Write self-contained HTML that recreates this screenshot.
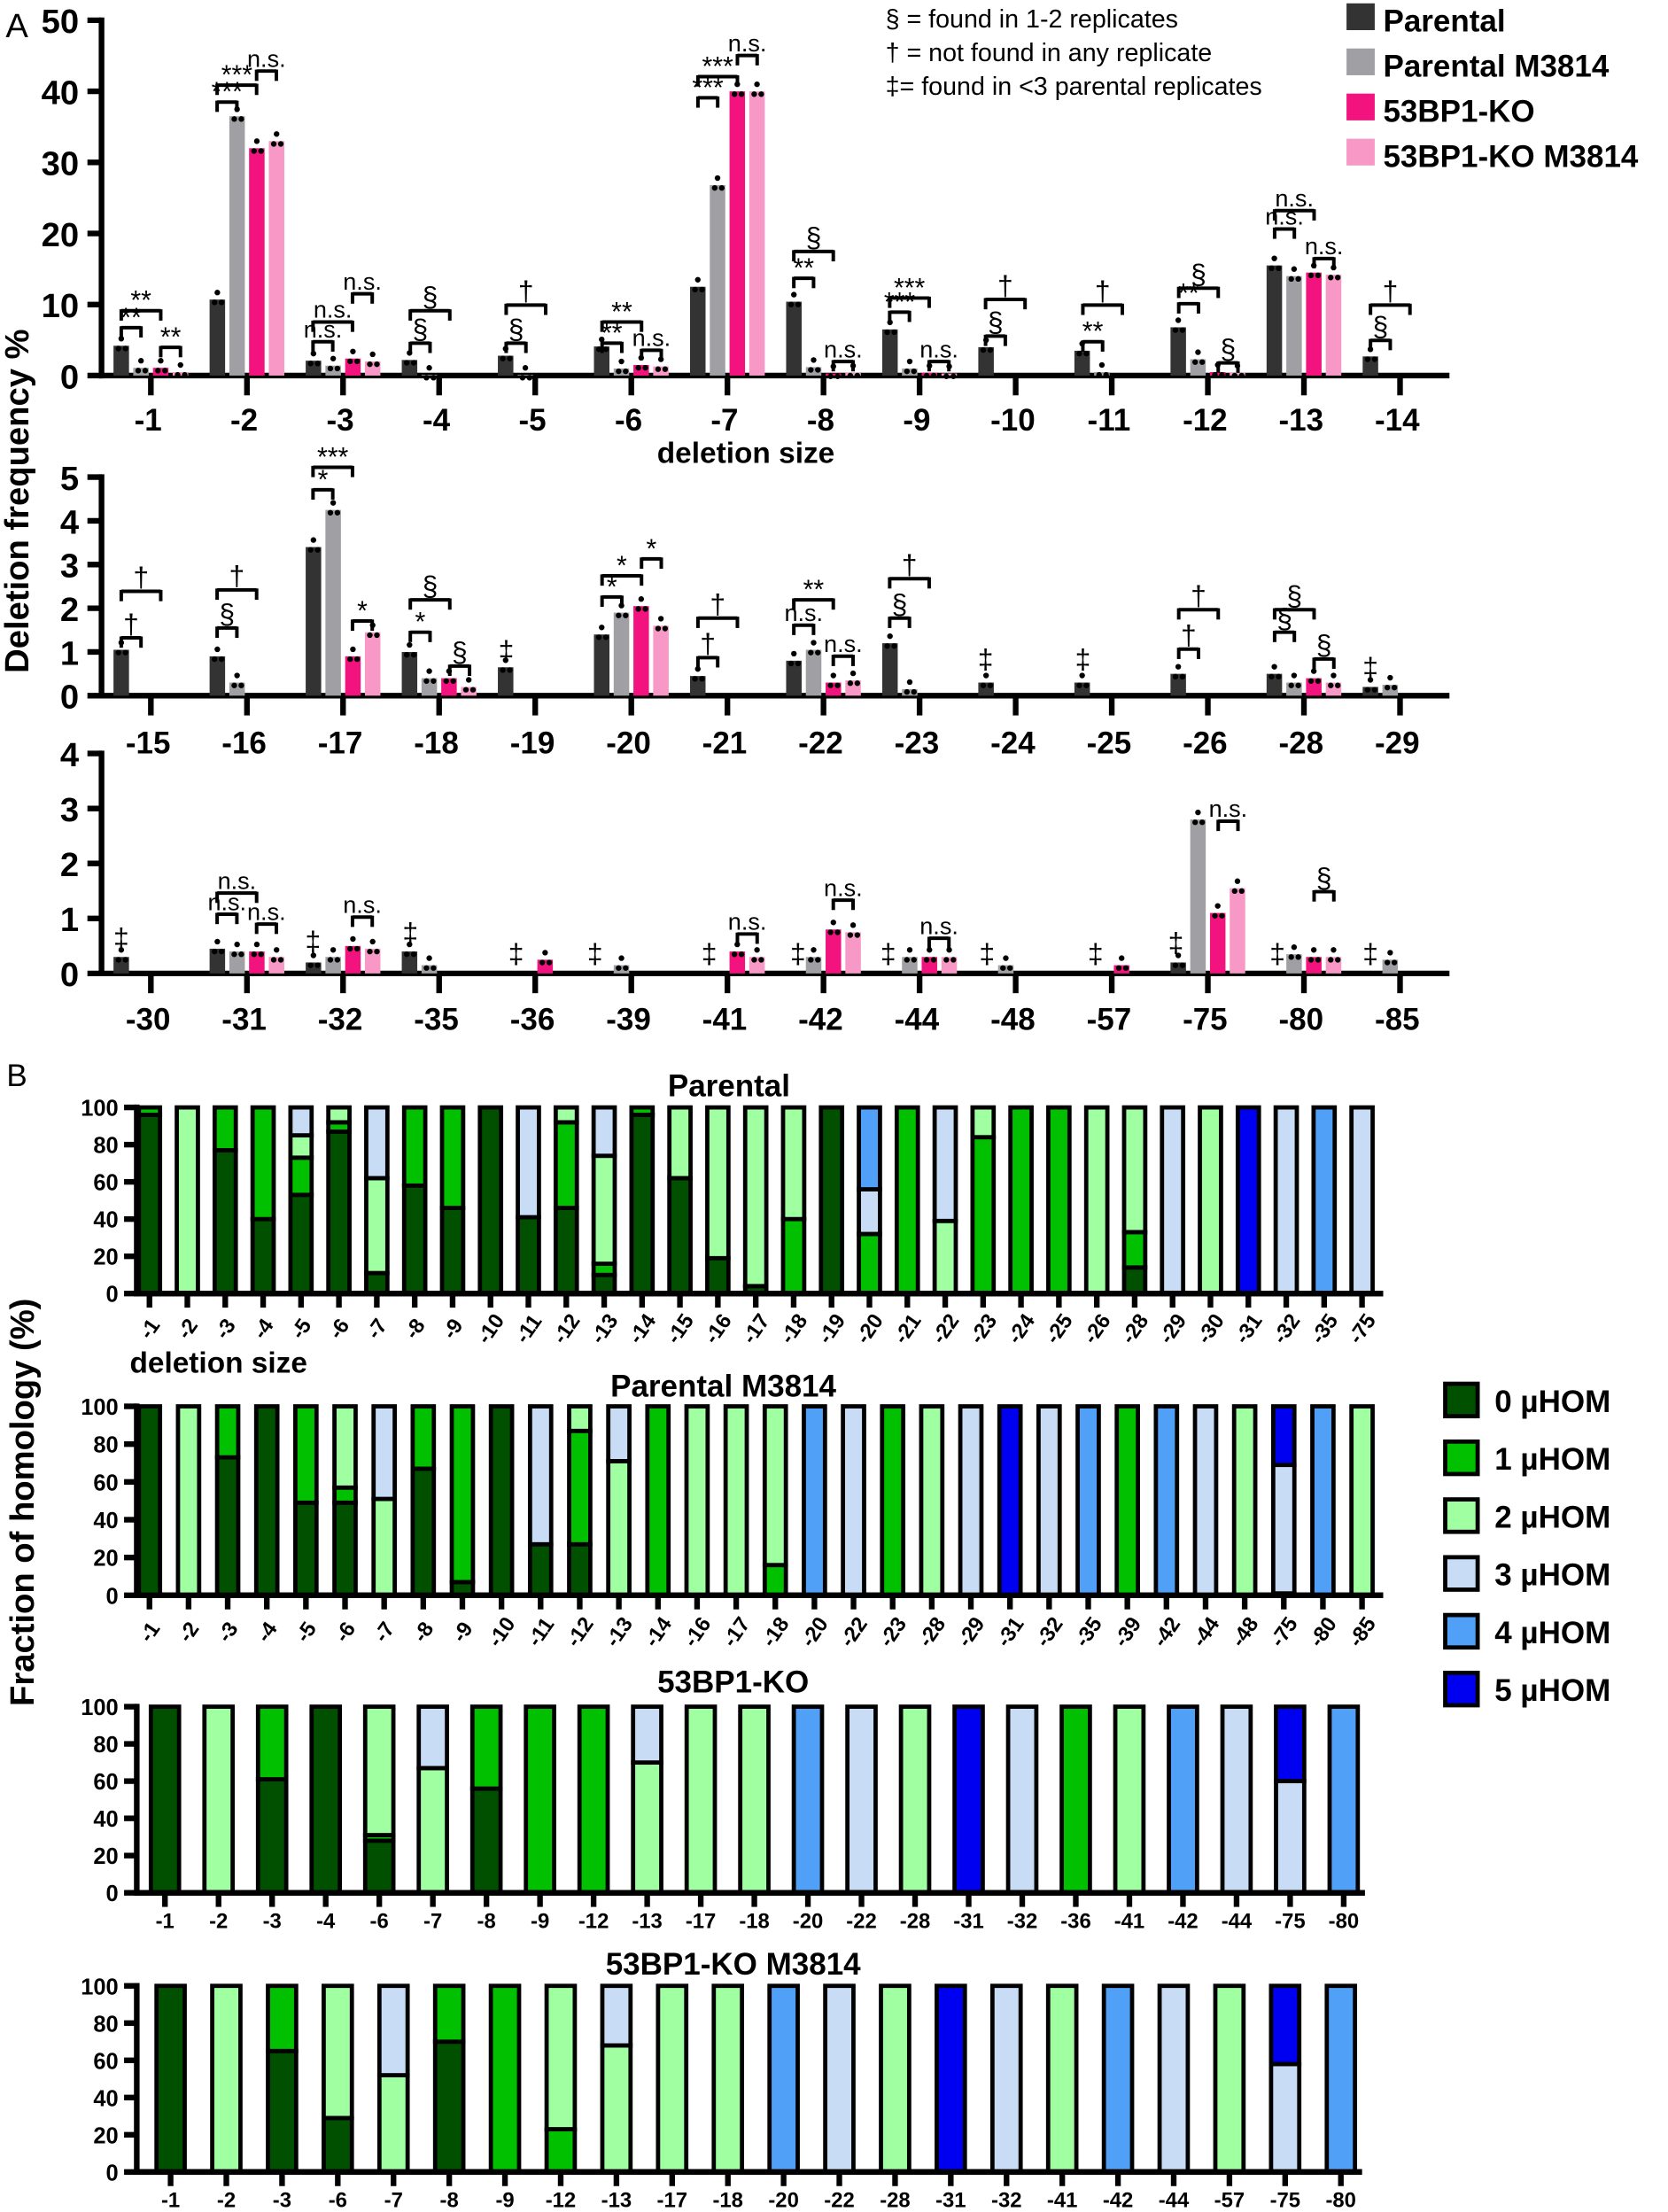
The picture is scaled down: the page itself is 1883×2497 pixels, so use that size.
<!DOCTYPE html>
<html><head><meta charset="utf-8"><style>
html,body{margin:0;padding:0;background:#fff}
svg{display:block}
text{font-family:"Liberation Sans",Arial,sans-serif}
</style></head><body>
<svg id="s" width="1883" height="2497" viewBox="0 0 1183 1568" xmlns="http://www.w3.org/2000/svg"></svg>
<script>
const S=document.getElementById('s');let h='';
function T(x,y,t,sz,o){o=o||{};h+=`<text x="${x}" y="${y}" font-size="${sz}" font-weight="${o.b===false?'normal':'bold'}" text-anchor="${o.a||'middle'}" ${o.tr?`transform="${o.tr}"`:''}>${t}</text>`;}
function L(x1,y1,x2,y2,w){h+=`<line x1="${x1}" y1="${y1}" x2="${x2}" y2="${y2}" stroke="#000" stroke-width="${w||2}"/>`;}
function R(x,y,w,hh,f,st){h+=`<rect x="${x}" y="${y}" width="${w}" height="${hh}" fill="${f}" ${st?`stroke="#000" stroke-width="${st}"`:''}/>`;}
const cols=['#333333','#a0a0a4','#f2137f','#f798c6'];
const centers=[];for(let i=0;i<14;i++)centers.push(107+i*68.15);
function panelA(top,bot,max,step,labels,data,labY){
  const k=(bot-top)/max;
  L(72,top-2,72,bot+2,4);L(70,bot,1028,bot,4);
  for(let v=0;v<=max;v+=step){const y=bot-v*k;L(62,y,72,y,4);T(56,y+9,v,24,{a:'end'});}
  labels.forEach((lb,i)=>{const c=centers[i];L(c,bot,c,bot+14,4);T(c-2,labY,lb,22);
    data[i].forEach((v,j)=>{if(v<=0)return;const x=c-21+j*14;const hh=v*k;R(x-5.5,bot-hh,11,hh,cols[j]);
      h+=`<circle cx="${x-2}" cy="${bot-hh+2}" r="2" fill="#000"/><circle cx="${x+3}" cy="${bot-hh+2}" r="2" fill="#000"/><circle cx="${x}" cy="${bot-hh-5}" r="2" fill="#000"/>`;});});
}
function B(x1,x2,y,lb){L(x1,y,x2,y,2.5);L(x1,y-1,x1,y+7,2.5);L(x2,y-1,x2,y+7,2.5);if(lb){const sz=lb[0]=='n'?17:(lb.includes('*')?19:20);T((x1+x2)/2,y-(lb.includes('*')?1:3),lb,sz,{b:false});}}
function M(x,y,s){T(x,y,s,20,{b:false});}
panelA(14,266,50,10,['-1','-2','-3','-4','-5','-6','-7','-8','-9','-10','-11','-12','-13','-14'],
[[4.2,1.1,1.1,.5],[10.7,36.5,32,33],[2.1,1.4,2.4,2],[2.2,.1,0,0],[2.8,.1,0,0],[4.1,1,1.5,1.3],[12.5,26.8,40,40],[10.4,1.2,.3,.4],[6.5,1,.4,.3],[4,0,0,0],[3.5,.5,0,0],[6.8,2.3,.5,.4],[15.5,14,14.5,14.2],[2.7,0,0,0]],305);
T(529,328,'deletion size',21);
panelA(338,493,5,1,['-15','-16','-17','-18','-19','-20','-21','-22','-23','-24','-25','-26','-28','-29'],
[[1.05,0,0,0],[.9,.3,0,0],[3.4,4.25,.9,1.45],[1,.4,.4,.2],[.65,0,0,0],[1.4,1.9,2.05,1.6],[.45,0,0,0],[.8,1.05,.3,.35],[1.2,.15,0,0],[.3,0,0,0],[.3,0,0,0],[.5,0,0,0],[.5,.3,.4,.3],[.2,.25,0,0]],534);
panelA(534,690,4,1,['-30','-31','-32','-35','-36','-39','-41','-42','-44','-48','-57','-75','-80','-85'],
[[.3,0,0,0],[.45,.4,.4,.3],[.2,.3,.5,.45],[.4,.15,0,0],[0,0,.25,0],[0,.15,0,0],[0,0,.4,.3],[0,.3,.8,.75],[0,.3,.3,.3],[0,.15,0,0],[0,0,.15,0],[.2,2.8,1.1,1.55],[0,.35,.3,.3],[0,.25,0,0]],730);
B(86,100,232,'**');B(86,114,220,'**');B(114,128,246,'**');
B(154,168,72,'***');B(154,182,60,'***');B(182,196,50,'n.s.');
B(222,236,242,'n.s.');B(222,250,228,'n.s.');B(250,264,208,'n.s.');
B(291,305,243,'§');B(291,319,220,'§');
B(359,373,243,'§');B(359,387,216,'†');
B(427,441,243,'**');B(427,455,228,'**');B(455,469,248,'n.s.');
B(495,509,69,'***');B(495,523,54,'***');B(523,537,39,'n.s.');
B(563,577,197,'**');B(563,591,178,'§');B(591,605,256,'n.s.');
B(631,645,221,'***');B(631,659,211,'***');B(659,673,256,'n.s.');
B(699,713,238,'§');B(699,727,212,'†');
B(768,782,242,'**');B(768,796,216,'†');
B(836,850,215,'**');B(836,864,204,'§');B(864,878,257,'§');
B(904,918,162,'n.s.');B(904,932,149,'n.s.');B(932,946,183,'n.s.');
B(972,986,241,'§');B(972,1000,216,'†');
B(86,100,452,'†');B(86,114,419,'†');
B(154,168,445,'§');B(154,182,418,'†');
B(222,236,347,'*');B(222,250,331,'***');B(250,264,440,'*');
B(291,305,448,'*');B(291,319,425,'§');B(319,333,472,'§');
M(359,468,'‡');
B(427,441,423,'*');B(427,455,408,'*');B(455,469,396,'*');
B(495,509,466,'†');B(495,523,438,'†');
B(563,577,443,'n.s.');B(563,591,425,'**');B(591,605,465,'n.s.');
B(631,645,438,'§');B(631,659,410,'†');
M(699,474,'‡');M(768,474,'‡');
B(836,850,460,'†');B(836,864,432,'†');
B(904,918,448,'§');B(904,932,432,'§');B(932,946,467,'§');
M(972,480,'‡');
M(86,672,'‡');B(154,168,648,'n.s.');B(154,182,633,'n.s.');B(182,196,655,'n.s.');
M(222,674,'‡');B(250,264,650,'n.s.');M(291,668,'‡');
M(366,683,'‡');M(422,683,'‡');M(503,683,'‡');B(523,537,662,'n.s.');
M(566,683,'‡');B(591,605,638,'n.s.');M(630,683,'‡');B(659,673,665,'n.s.');
M(700,683,'‡');M(777,683,'‡');M(834,675,'‡');B(864,878,582,'n.s.');
M(906,683,'‡');B(932,946,632,'§');M(972,683,'‡');
T(12,26,'A',24,{b:false});
T(20,355,'Deletion frequency %',24,{tr:'rotate(-90 20 355)'});
T(628,19,'§ = found in 1-2 replicates',18,{a:'start',b:false});
T(628,43,'† = not found in any replicate',18,{a:'start',b:false});
T(628,67,'‡= found in &lt;3 parental replicates',18,{a:'start',b:false});
['Parental','Parental M3814','53BP1-KO','53BP1-KO M3814'].forEach((t,i)=>{R(955,2+i*32,20,19,cols[i]);T(981,22+i*32,t,22,{a:'start'});});
const hc=['#005000','#00c000','#a0ffa0','#c8dcf5','#50a0f8','#0000f0'];
function panelB(top,bot,x0,x1,bars,rot,labY,bw){
  const k=(bot-top)/100;
  L(97,top-2,97,bot+2,4);L(95,bot,x1+15,bot,4);
  for(let v=0;v<=100;v+=20){const y=bot-v*k;L(88,y,97,y,4);T(84,y+6,v,16,{a:'end'});}
  const n=bars.length,sp=(x1-x0)/(n-1);
  bars.forEach((b,i)=>{const c=x0+i*sp;L(c,bot,c,bot+10,4);
    let prev=0;b[1].forEach(([cat,tp])=>{R(c-bw/2,bot-tp*k,bw,(tp-prev)*k,hc[cat],3);prev=tp;});
    if(rot)T(c,labY,b[0],15,{tr:`rotate(-55 ${c} ${labY-5})`});else T(c,labY,b[0],15);});
  L(95,bot,x1+15,bot,4);
}
const P=[['-1',[[0,96],[1,100]]],['-2',[[2,100]]],['-3',[[0,77],[1,100]]],['-4',[[0,40],[1,100]]],['-5',[[0,53],[1,73],[2,85],[3,100]]],['-6',[[0,87],[1,92],[2,100]]],['-7',[[0,11],[2,62],[3,100]]],['-8',[[0,58],[1,100]]],['-9',[[0,46],[1,100]]],['-10',[[0,100]]],['-11',[[0,41],[3,100]]],['-12',[[0,46],[1,92],[2,100]]],['-13',[[0,10],[1,16],[2,74],[3,100]]],['-14',[[0,96],[1,100]]],['-15',[[0,62],[2,100]]],['-16',[[0,19],[2,100]]],['-17',[[0,4],[2,100]]],['-18',[[1,40],[2,100]]],['-19',[[0,100]]],['-20',[[1,32],[3,56],[4,100]]],['-21',[[1,100]]],['-22',[[2,39],[3,100]]],['-23',[[1,84],[2,100]]],['-24',[[1,100]]],['-25',[[1,100]]],['-26',[[2,100]]],['-28',[[0,14],[1,33],[2,100]]],['-29',[[3,100]]],['-30',[[2,100]]],['-31',[[5,100]]],['-32',[[3,100]]],['-35',[[4,100]]],['-75',[[3,100]]]];
panelB(785,917,106,966,P,true,947,15);
T(517,777,'Parental',22);T(155,973,'deletion size',21);
const PM=[['-1',[[0,100]]],['-2',[[2,100]]],['-3',[[0,73],[1,100]]],['-4',[[0,100]]],['-5',[[0,49],[1,100]]],['-6',[[0,49],[1,57],[2,100]]],['-7',[[2,51],[3,100]]],['-8',[[0,67],[1,100]]],['-9',[[0,7],[1,100]]],['-10',[[0,100]]],['-11',[[0,27],[3,100]]],['-12',[[0,27],[1,87],[2,100]]],['-13',[[2,71],[3,100]]],['-14',[[1,100]]],['-16',[[2,100]]],['-17',[[2,100]]],['-18',[[1,16],[2,100]]],['-20',[[4,100]]],['-22',[[3,100]]],['-23',[[1,100]]],['-28',[[2,100]]],['-29',[[3,100]]],['-31',[[5,100]]],['-32',[[3,100]]],['-35',[[4,100]]],['-39',[[1,100]]],['-42',[[4,100]]],['-44',[[3,100]]],['-48',[[2,100]]],['-75',[[0,1],[3,69],[5,100]]],['-80',[[4,100]]],['-85',[[2,100]]]];
panelB(997,1131,106,966,PM,true,1162,15);
T(513,990,'Parental M3814',22);
const K=[['-1',[[0,100]]],['-2',[[2,100]]],['-3',[[0,61],[1,100]]],['-4',[[0,100]]],['-6',[[0,28],[1,31],[2,100]]],['-7',[[2,67],[3,100]]],['-8',[[0,56],[1,100]]],['-9',[[1,100]]],['-12',[[1,100]]],['-13',[[2,70],[3,100]]],['-17',[[2,100]]],['-18',[[2,100]]],['-20',[[4,100]]],['-22',[[3,100]]],['-28',[[2,100]]],['-31',[[5,100]]],['-32',[[3,100]]],['-36',[[1,100]]],['-41',[[2,100]]],['-42',[[4,100]]],['-44',[[3,100]]],['-75',[[3,60],[5,100]]],['-80',[[4,100]]]];
panelB(1210,1342,117,953,K,false,1367,20);
T(520,1200,'53BP1-KO',22);
const KM=[['-1',[[0,100]]],['-2',[[2,100]]],['-3',[[0,65],[1,100]]],['-6',[[0,29],[2,100]]],['-7',[[2,52],[3,100]]],['-8',[[0,70],[1,100]]],['-9',[[1,100]]],['-12',[[1,23],[2,100]]],['-13',[[2,68],[3,100]]],['-17',[[2,100]]],['-18',[[2,100]]],['-20',[[4,100]]],['-22',[[3,100]]],['-28',[[2,100]]],['-31',[[5,100]]],['-32',[[3,100]]],['-41',[[2,100]]],['-42',[[4,100]]],['-44',[[3,100]]],['-57',[[2,100]]],['-75',[[3,58],[5,100]]],['-80',[[4,100]]]];
panelB(1408,1540,121,951,KM,false,1565,20);
T(520,1400,'53BP1-KO M3814',22);
T(12,770,'B',22,{b:false});
T(24,1065,'Fraction of homology (%)',24,{tr:'rotate(-90 24 1065)'});
for(let i=0;i<6;i++){R(1025,981+i*41,23,23,hc[i],3);T(1060,1001+i*41,i+' µHOM',22,{a:'start'});}
S.innerHTML=h;
</script>
</body></html>
